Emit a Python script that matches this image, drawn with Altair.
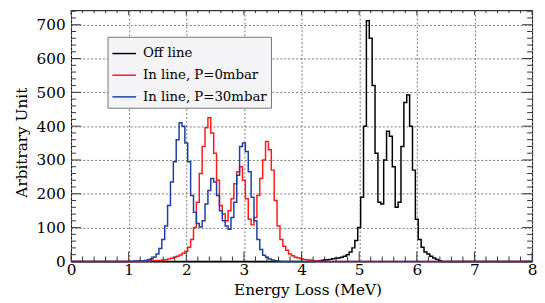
import altair as alt
import pandas as pd

BIN = 0.05
off_start = 4.20
off_vals = [0, 1, 2, 3, 4, 5, 6, 8, 9, 10,
            12, 15, 20, 28, 40, 62, 100, 190, 400, 712,
            660, 520, 320, 175, 170, 300, 385, 370, 280, 160,
            175, 340, 470, 492, 400, 270, 125, 65, 42, 28,
            22, 15, 10, 6, 2, 0]
p0_start = 1.20
p0_vals = [0, 0, 1, 1, 2, 2, 3, 3, 4, 5,
           7, 9, 12, 15, 19, 24, 30, 42, 65, 100,
           175, 260, 340, 395, 425, 380, 320, 240, 165, 140,
           120, 150, 185, 230, 265, 280, 240, 185, 125, 108,
           130, 195, 245, 300, 355, 330, 270, 180, 105, 65,
           45, 33, 22, 17, 12, 10, 8, 6, 5, 4,
           3, 2, 1, 0]
p30_start = 1.00
p30_vals = [0, 0, 1, 1, 2, 2, 3, 5, 8, 13,
            22, 38, 65, 105, 165, 235, 295, 360, 410, 400,
            350, 295, 195, 145, 112, 102, 120, 170, 210, 245,
            235, 195, 150, 120, 105, 95, 130, 175, 255, 340,
            350, 325, 265, 190, 120, 65, 35, 18, 12, 7,
            4, 2, 1, 0]

series_names = ["Off line", "In line, P=0mbar", "In line, P=30mbar"]
series_colors = ["#000000", "#ff1a1a", "#1f3f9f"]
x_ticks = [0, 1, 2, 3, 4, 5, 6, 7, 8]
y_ticks = [0, 100, 200, 300, 400, 500, 600, 700]
X_MAX = 8.0
Y_MAX = 743

rows = []
for name, start, vals in zip(series_names, [off_start, p0_start, p30_start],
                             [off_vals, p0_vals, p30_vals]):
    rows.append({"series": name, "E": 0.0, "N": 0})
    for i, v in enumerate(vals):
        rows.append({"series": name, "E": round(start + i * BIN, 3), "N": v})
    rows.append({"series": name, "E": X_MAX, "N": 0})
df = pd.DataFrame(rows)

W, H = 468, 255
FONT = "DejaVu Serif"
xs = alt.Scale(domain=[0, X_MAX], nice=False, zero=False)
ys = alt.Scale(domain=[0, Y_MAX], nice=False, zero=False)
cs = alt.Scale(domain=series_names, range=series_colors)

legend = alt.Legend(title=None, orient="none", legendX=37, legendY=27,
                    symbolType="stroke", symbolSize=576, symbolStrokeWidth=1.5,
                    labelFontSize=13.5, labelColor="black",
                    fillColor="#f4f4f6", strokeColor="#777777", padding=4,
                    rowPadding=2, labelOffset=6)

xaxis = alt.Axis(values=x_ticks, format="d", grid=True, gridDash=[2, 2],
                 gridColor="#777777", ticks=False, domain=False,
                 labelFontSize=15.5, labelColor="black",
                 labelPadding=1, labelFlush=False,
                 title="Energy Loss (MeV)", titleFontSize=15.5,
                 titleFontWeight="normal", titleColor="black",
                 titleX=240, titleY=34, titleBaseline="alphabetic")
yaxis = alt.Axis(values=y_ticks, format="d", grid=True, gridDash=[2, 2],
                 gridColor="#777777", ticks=False, domain=False,
                 labelFontSize=15.5, labelColor="black",
                 labelPadding=6, labelFlush=False,
                 title="Arbitrary Unit", titleFontSize=15.5,
                 titleFontWeight="normal", titleColor="black",
                 titleX=-50, titleY=134, titleAngle=270,
                 titleAlign="center", titleBaseline="middle")

layers = []
for k, name in enumerate(series_names):
    enc = dict(
        x=alt.X("E:Q", scale=xs, axis=xaxis),
        y=alt.Y("N:Q", scale=ys, axis=yaxis),
        color=alt.Color("series:N", scale=cs, legend=legend),
    )
    layers.append(
        alt.Chart(df).transform_filter(alt.datum.series == name)
        .mark_line(interpolate="step", strokeWidth=1.5).encode(**enc)
    )

xmaj = pd.DataFrame({"v": x_ticks})
xmin = pd.DataFrame({"v": [round(0.2 * i, 2) for i in range(41) if i % 5]})
ymaj = pd.DataFrame({"v": y_ticks})
ymin = pd.DataFrame({"v": [20 * i for i in range(38) if i % 5]})

def xt(d, y1, y2):
    return alt.Chart(d).mark_rule(color="#333333", strokeWidth=1).encode(
        x=alt.X("v:Q", scale=xs, axis=xaxis), y=alt.value(y1), y2=alt.value(y2))

def yt(d, x1, x2):
    return alt.Chart(d).mark_rule(color="#333333", strokeWidth=1).encode(
        y=alt.Y("v:Q", scale=ys, axis=yaxis), x=alt.value(x1), x2=alt.value(x2))

ticks = [xt(xmaj, H, H - 10), xt(xmin, H, H - 5),
         xt(xmaj, 0, 5), xt(xmin, 0, 3),
         yt(ymaj, 0, 10), yt(ymin, 0, 5),
         yt(ymaj, W, W - 10), yt(ymin, W, W - 5)]

chart = alt.layer(*layers, *ticks).properties(
    width=W, height=H,
    autosize=alt.AutoSizeParams(type="none"),
    padding={"left": 64, "top": 0, "right": 5, "bottom": 40},
).configure(background="white", font=FONT).configure_view(
    stroke="black", strokeWidth=1
).configure_axis(labelFont=FONT, titleFont=FONT).configure_legend(labelFont=FONT)

chart.save("out.html", embed_options={"renderer": "svg", "actions": False})
